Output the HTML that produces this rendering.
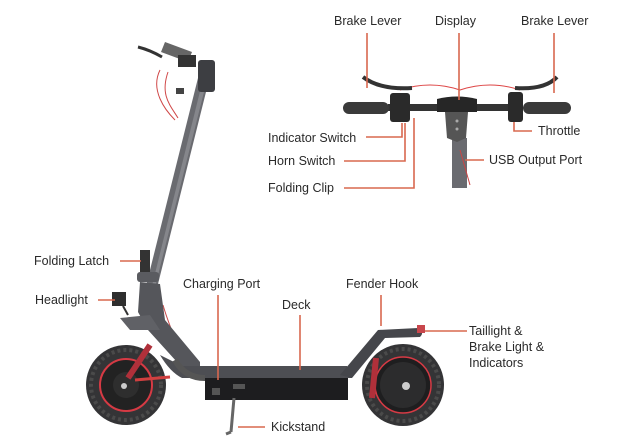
<!DOCTYPE html>
<html><head><meta charset="utf-8"><style>
html,body{margin:0;padding:0;background:#fff}
svg{display:block}
text{font-family:"Liberation Sans",sans-serif;font-size:12.5px;fill:#2a2a2a}
.l{stroke:#d9684f;stroke-width:1.6;fill:none}
</style></head><body>
<svg width="623" height="447" viewBox="0 0 623 447">
<path d="M160 70 C150 90 165 110 175 120" stroke="#d04848" stroke-width="1" fill="none"/>
<path d="M168 72 C160 95 170 105 178 118" stroke="#d04848" stroke-width="1" fill="none"/>
<path d="M163 305 C170 330 180 345 180 365" stroke="#c84848" stroke-width="1" fill="none"/>
<path d="M201 66 L212 68 L154 300 L143 298 Z" fill="#6a6b70"/>
<path d="M206 67 L210 68 L152 299 L149 298 Z" fill="#85868b"/>
<rect x="198" y="60" width="17" height="32" rx="3" fill="#3d3e42"/>
<path d="M165 42 L192 52 L188 62 L161 52 Z" fill="#666"/>
<path d="M138 47 Q150 50 162 57" stroke="#333" stroke-width="3" fill="none"/>
<rect x="178" y="55" width="18" height="12" fill="#333"/>
<rect x="176" y="88" width="8" height="6" fill="#444"/>
<rect x="140" y="250" width="10" height="22" fill="#333"/>
<rect x="137" y="272" width="22" height="10" rx="3" fill="#5a5b60"/>
<path d="M140 282 L160 284 L165 320 L200 362 L200 372 L186 372 L148 330 L138 312 Z" fill="#55565b"/>
<path d="M120 318 L150 315 L160 330 L130 330 Z" fill="#606166"/>
<rect x="112" y="292" width="14" height="14" fill="#2e2e2e"/>
<path d="M123 306 L128 315" stroke="#333" stroke-width="2"/>
<circle cx="126" cy="385" r="40" fill="#343436"/>
<circle cx="126" cy="385" r="35" fill="none" stroke="#4a4a4a" stroke-width="4" stroke-dasharray="3 3"/>
<circle cx="126" cy="385" r="26" fill="#222" stroke="#d63a44" stroke-width="2"/>
<circle cx="126" cy="385" r="13" fill="#2e2e2e"/>
<circle cx="124" cy="386" r="3" fill="#ccc"/>
<path d="M128 378 L150 345" stroke="#b0303a" stroke-width="6"/>
<path d="M135 380 L170 377" stroke="#d04040" stroke-width="3"/>
<path d="M182 366 L347 366 L352 378 L182 378 Q170 372 160 355 Z" fill="#4d4e53"/>
<rect x="205" y="378" width="143" height="22" fill="#1d1d1f"/>
<path d="M175 360 Q185 378 205 378" stroke="#555" stroke-width="6" fill="none"/>
<rect x="212" y="388" width="8" height="7" fill="#555"/>
<rect x="233" y="384" width="12" height="5" fill="#555"/>
<path d="M234 398 L231 432 M231 432 L226 434" stroke="#666" stroke-width="3"/>
<path d="M340 375 L378 330 L418 328 Q425 332 420 337 L385 338 L352 378 Z" fill="#45464b"/>
<rect x="417" y="325" width="8" height="8" fill="#c8464c"/>
<circle cx="403" cy="385" r="41" fill="#343436"/>
<circle cx="403" cy="385" r="36" fill="none" stroke="#4a4a4a" stroke-width="4" stroke-dasharray="3 3"/>
<circle cx="403" cy="385" r="28" fill="#1e1e1f" stroke="#d63a44" stroke-width="1.5"/>
<circle cx="403" cy="385" r="23" fill="#2c2c2d"/>
<circle cx="406" cy="386" r="4" fill="#ccc"/>
<path d="M376 358 L372 398" stroke="#b0303a" stroke-width="6"/>

<path d="M400 90 Q430 80 460 90 Q490 80 520 90" stroke="#d44" stroke-width="1" fill="none"/>
<rect x="452" y="138" width="15" height="50" fill="#6a6b70"/>
<path d="M460 150 L470 185" stroke="#c44" stroke-width="1"/>
<rect x="388" y="104" width="135" height="7" fill="#333"/>
<rect x="343" y="102" width="46" height="12" rx="6" fill="#3a3a3a"/>
<rect x="523" y="102" width="48" height="12" rx="6" fill="#3a3a3a"/>
<rect x="390" y="93" width="20" height="29" rx="3" fill="#2a2a2a"/>
<rect x="508" y="92" width="15" height="30" rx="3" fill="#2a2a2a"/>
<path d="M363 77 Q380 90 412 88" stroke="#333" stroke-width="4" fill="none"/>
<path d="M557 77 Q545 90 515 88" stroke="#333" stroke-width="4" fill="none"/>
<path d="M437 99 Q457 94 477 99 L477 112 L437 112 Z" fill="#262626"/>
<path d="M445 112 L468 112 L466 138 L457 142 L447 138 Z" fill="#555"/>
<circle cx="457" cy="121" r="1.5" fill="#aaa"/><circle cx="457" cy="129" r="1.5" fill="#aaa"/>

<path class="l" d="M367 33 V88"/>
<path class="l" d="M459 33 V100"/>
<path class="l" d="M554 33 V93"/>
<path class="l" d="M366 137 H402 V123"/>
<path class="l" d="M344 161 H405 V123"/>
<path class="l" d="M344 188 H414 V118"/>
<path class="l" d="M514 122 V131 H532"/>
<path class="l" d="M465 160 H484"/>
<path class="l" d="M120 261 H141"/>
<path class="l" d="M98 300 H115"/>
<path class="l" d="M218 295 V380"/>
<path class="l" d="M300 315 V370"/>
<path class="l" d="M381 295 V326"/>
<path class="l" d="M425 331 H467"/>
<path class="l" d="M238 427 H265"/>

<text x="334" y="25">Brake Lever</text>
<text x="435" y="25">Display</text>
<text x="521" y="25">Brake Lever</text>
<text x="268" y="142">Indicator Switch</text>
<text x="268" y="165">Horn Switch</text>
<text x="268" y="192">Folding Clip</text>
<text x="538" y="135">Throttle</text>
<text x="489" y="164">USB Output Port</text>
<text x="34" y="265">Folding Latch</text>
<text x="35" y="304">Headlight</text>
<text x="183" y="288">Charging Port</text>
<text x="282" y="309">Deck</text>
<text x="346" y="288">Fender Hook</text>
<text x="469" y="335">Taillight &amp;</text>
<text x="469" y="351">Brake Light &amp;</text>
<text x="469" y="367">Indicators</text>
<text x="271" y="431">Kickstand</text>
</svg>
</body></html>
